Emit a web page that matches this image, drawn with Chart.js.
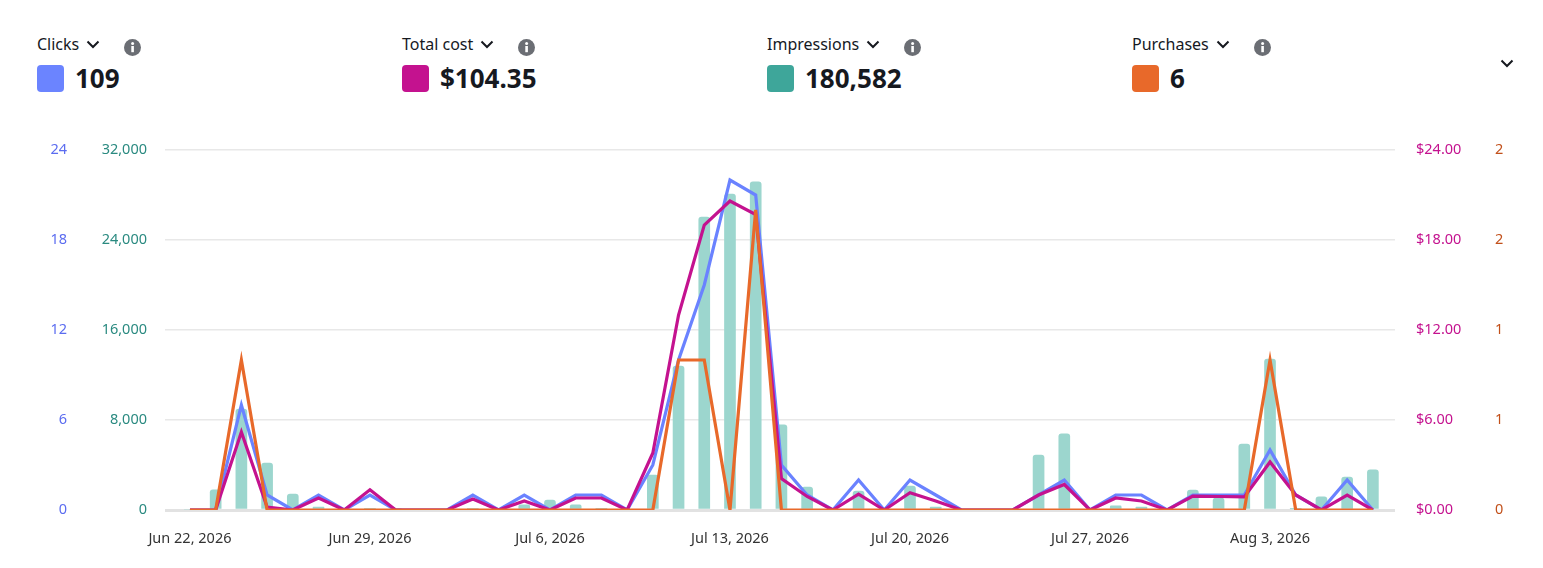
<!DOCTYPE html>
<html>
<head>
<meta charset="utf-8">
<script src="https://cdn.jsdelivr.net/npm/chart.js@4.4.1/dist/chart.umd.min.js"></script>
<style>
  body { margin: 0; width: 1543px; height: 568px; background: #fff; font-family: "Noto Sans", sans-serif; color: #16191f; overflow: hidden; position: relative; }
  .metric { position: absolute; top: 33px; }
  .label { display: flex; align-items: center; font-size: 16px; height: 22px; }
  .chev { margin-left: 7px; }
  .info { margin-left: 24px; margin-top: 7px; }
  .value { display: flex; align-items: center; margin-top: 10px; }
  .sw { width: 27px; height: 27px; border-radius: 4px; margin-right: 11px; }
  .num { font-weight: 700; font-size: 26px; line-height: 27px; }
  #wrap { position: absolute; left: 0; top: 120px; width: 1543px; height: 448px; }
  #more { position: absolute; left: 1500px; top: 59px; }
</style>
</head>
<body>

<div class="metric" style="left:37px">
  <div class="label">Clicks
    <svg class="chev" width="14" height="9" viewBox="0 0 14 9"><path d="M1.5 1.5 L7 7 L12.5 1.5" fill="none" stroke="#16191f" stroke-width="2"/></svg>
    <svg class="info" width="17" height="17" viewBox="0 0 17 17"><circle cx="8.5" cy="8.5" r="8.5" fill="#6b6e74"/><rect x="7.3" y="7" width="2.6" height="6.2" fill="#fff"/><circle cx="8.6" cy="4.5" r="1.5" fill="#fff"/></svg>
  </div>
  <div class="value"><div class="sw" style="background:#6b84ff"></div><div class="num">109</div></div>
</div>

<div class="metric" style="left:402px">
  <div class="label">Total cost
    <svg class="chev" width="14" height="9" viewBox="0 0 14 9"><path d="M1.5 1.5 L7 7 L12.5 1.5" fill="none" stroke="#16191f" stroke-width="2"/></svg>
    <svg class="info" width="17" height="17" viewBox="0 0 17 17"><circle cx="8.5" cy="8.5" r="8.5" fill="#6b6e74"/><rect x="7.3" y="7" width="2.6" height="6.2" fill="#fff"/><circle cx="8.6" cy="4.5" r="1.5" fill="#fff"/></svg>
  </div>
  <div class="value"><div class="sw" style="background:#c4128f"></div><div class="num">$104.35</div></div>
</div>

<div class="metric" style="left:767px">
  <div class="label">Impressions
    <svg class="chev" width="14" height="9" viewBox="0 0 14 9"><path d="M1.5 1.5 L7 7 L12.5 1.5" fill="none" stroke="#16191f" stroke-width="2"/></svg>
    <svg class="info" width="17" height="17" viewBox="0 0 17 17"><circle cx="8.5" cy="8.5" r="8.5" fill="#6b6e74"/><rect x="7.3" y="7" width="2.6" height="6.2" fill="#fff"/><circle cx="8.6" cy="4.5" r="1.5" fill="#fff"/></svg>
  </div>
  <div class="value"><div class="sw" style="background:#3ea69a"></div><div class="num">180,582</div></div>
</div>

<div class="metric" style="left:1132px">
  <div class="label">Purchases
    <svg class="chev" width="14" height="9" viewBox="0 0 14 9"><path d="M1.5 1.5 L7 7 L12.5 1.5" fill="none" stroke="#16191f" stroke-width="2"/></svg>
    <svg class="info" width="17" height="17" viewBox="0 0 17 17"><circle cx="8.5" cy="8.5" r="8.5" fill="#6b6e74"/><rect x="7.3" y="7" width="2.6" height="6.2" fill="#fff"/><circle cx="8.6" cy="4.5" r="1.5" fill="#fff"/></svg>
  </div>
  <div class="value"><div class="sw" style="background:#e8692a"></div><div class="num">6</div></div>
</div>

<svg id="more" width="14" height="9" viewBox="0 0 14 9"><path d="M1.5 1.5 L7 7 L12.5 1.5" fill="none" stroke="#16191f" stroke-width="2"/></svg>

<div id="wrap"><canvas id="perfChart"></canvas></div>

<script>
const dates = [
  'Jun 22, 2026', 'Jun 23, 2026', 'Jun 24, 2026', 'Jun 25, 2026', 'Jun 26, 2026', 'Jun 27, 2026', 'Jun 28, 2026',
  'Jun 29, 2026', 'Jun 30, 2026', 'Jul 1, 2026', 'Jul 2, 2026', 'Jul 3, 2026', 'Jul 4, 2026', 'Jul 5, 2026',
  'Jul 6, 2026', 'Jul 7, 2026', 'Jul 8, 2026', 'Jul 9, 2026', 'Jul 10, 2026', 'Jul 11, 2026', 'Jul 12, 2026',
  'Jul 13, 2026', 'Jul 14, 2026', 'Jul 15, 2026', 'Jul 16, 2026', 'Jul 17, 2026', 'Jul 18, 2026', 'Jul 19, 2026',
  'Jul 20, 2026', 'Jul 21, 2026', 'Jul 22, 2026', 'Jul 23, 2026', 'Jul 24, 2026', 'Jul 25, 2026', 'Jul 26, 2026',
  'Jul 27, 2026', 'Jul 28, 2026', 'Jul 29, 2026', 'Jul 30, 2026', 'Jul 31, 2026', 'Aug 1, 2026', 'Aug 2, 2026',
  'Aug 3, 2026', 'Aug 4, 2026', 'Aug 5, 2026', 'Aug 6, 2026', 'Aug 7, 2026'
];

// days (index into dates) that get an x tick label
const xTickDays = [0, 7, 14, 21, 28, 35, 42];

const clicks = [0, 0, 7, 1, 0, 1, 0, 1, 0, 0, 0, 1, 0, 1, 0, 1, 1, 0, 3, 10, 15, 22, 21, 3,
  1, 0, 2, 0, 2, 1, 0, 0, 0, 1, 2, 0, 1, 1, 0, 1, 1, 1, 4, 1, 0, 2, 0];

const cost = [0, 0, 5.2, 0.2, 0, 0.8, 0, 1.35, 0, 0, 0, 0.73, 0, 0.6, 0, 0.8, 0.8, 0, 3.8, 13.0, 19.0, 20.6, 19.7, 2.1,
  0.9, 0, 1.05, 0, 1.15, 0.6, 0, 0, 0, 1.0, 1.7, 0, 0.8, 0.6, 0, 0.93, 0.9, 0.87, 3.2, 1.0, 0, 1.0, 0];

const impressions = [0, 1800, 8980, 4180, 1420, 270, 0, 150, 60, 0, 0, 150, 0, 450, 890, 450, 150, 0, 3110, 12800, 26040, 28090, 29160, 7560,
  2040, 0, 1690, 0, 2130, 270, 0, 0, 0, 4890, 6760, 0, 360, 270, 0, 1780, 1070, 5870, 13420, 100, 1160, 2930, 3560];

const purchases = [0, 0, 1, 0, 0, 0, 0, 0, 0, 0, 0, 0, 0, 0, 0, 0, 0, 0, 0, 1, 1, 0, 2, 0,
  0, 0, 0, 0, 0, 0, 0, 0, 0, 0, 0, 0, 0, 0, 0, 0, 0, 0, 1, 0, 0, 0, 0];

const clickTicks = [0, 6, 12, 18, 24];
const impressionTicks = [0, 8000, 16000, 24000, 32000];

// points as {x: day index, y: value}
const toPoints = arr => arr.map((v, i) => ({ x: i, y: v }));

const tickFont = { family: 'Noto Sans', size: 14.5 };
const lineW = 3.2;

const ctx = document.getElementById('perfChart').getContext('2d');

const perfChart = new Chart(ctx, {
  data: {
    datasets: [
      {
        type: 'line',
        label: 'Purchases',
        data: toPoints(purchases),
        yAxisID: 'yPurchases',
        borderColor: '#e8692a',
        borderWidth: lineW,
        pointRadius: 0,
        tension: 0,
        clip: 0,
        order: 0
      },
      {
        type: 'line',
        label: 'Total cost',
        data: toPoints(cost),
        yAxisID: 'yCost',
        borderColor: '#c4128f',
        borderWidth: lineW,
        pointRadius: 0,
        tension: 0,
        clip: 0,
        order: 1
      },
      {
        type: 'line',
        label: 'Clicks',
        data: toPoints(clicks),
        yAxisID: 'yClicks',
        borderColor: '#6a82ff',
        borderWidth: lineW,
        pointRadius: 0,
        tension: 0,
        clip: 0,
        order: 2
      },
      {
        type: 'bar',
        label: 'Impressions',
        data: toPoints(impressions),
        yAxisID: 'yImpr',
        backgroundColor: '#9cd6ce',
        barThickness: 11,
        borderRadius: { topLeft: 3, topRight: 3 },
        borderSkipped: 'bottom',
        order: 3
      }
    ]
  },
  options: {
    responsive: true,
    maintainAspectRatio: false,
    animation: false,
    layout: { padding: { top: 30, left: 0, right: 0, bottom: 0 } },
    plugins: {
      legend: { display: false },
      tooltip: { enabled: false }
    },
    scales: {
      x: {
        type: 'linear',
        bounds: 'data',
        offset: false,
        min: -0.97,
        max: 46.86,
        grid: { display: false, drawTicks: false, offset: false },
        border: { display: false },
        ticks: {
          autoSkip: false,
          maxRotation: 0,
          padding: 20,
          color: '#333',
          font: tickFont,
          callback: v => dates[v]
        },
        afterBuildTicks: s => { s.ticks = xTickDays.map(v => ({ value: v })); },
        afterFit: s => { s.height = 58; }
      },
      yClicks: {
        position: 'left',
        weight: 1,
        min: 0,
        max: 24,
        grid: { display: false, drawTicks: false },
        border: { display: false },
        ticks: {
          padding: 3,
          color: '#5b6cf0',
          font: tickFont
        },
        afterBuildTicks: s => { s.ticks = clickTicks.map(v => ({ value: v })); },
        afterFit: s => { s.width = 70; }
      },
      yImpr: {
        position: 'left',
        weight: 0,
        min: 0,
        max: 32000,
        grid: {
          drawTicks: false,
          color: ctx => ctx.tick && ctx.tick.value === 0 ? '#e2e2e2' : '#e8e8e8',
          lineWidth: ctx => ctx.tick && ctx.tick.value === 0 ? 3 : 1.5
        },
        border: { display: false },
        ticks: {
          padding: 18,
          color: '#2a8a80',
          font: tickFont,
          callback: v => v.toLocaleString('en-US')
        },
        afterBuildTicks: s => { s.ticks = impressionTicks.map(v => ({ value: v })); },
        afterFit: s => { s.width = 95; }
      },
      yCost: {
        position: 'right',
        weight: 0,
        min: 0,
        max: 24,
        grid: { display: false, drawTicks: false },
        border: { display: false },
        ticks: {
          stepSize: 6,
          padding: 21,
          color: '#c4128f',
          font: tickFont,
          callback: v => '$' + v.toFixed(2)
        },
        afterFit: s => { s.width = 90; }
      },
      yPurchases: {
        position: 'right',
        weight: 1,
        min: 0,
        max: 2.4,
        grid: { display: false, drawTicks: false },
        border: { display: false },
        ticks: {
          stepSize: 0.6,
          padding: 10,
          color: '#c2501a',
          font: tickFont,
          callback: v => Math.round(v)
        },
        afterFit: s => { s.width = 58; }
      }
    }
  }
});
</script>
</body>
</html>
